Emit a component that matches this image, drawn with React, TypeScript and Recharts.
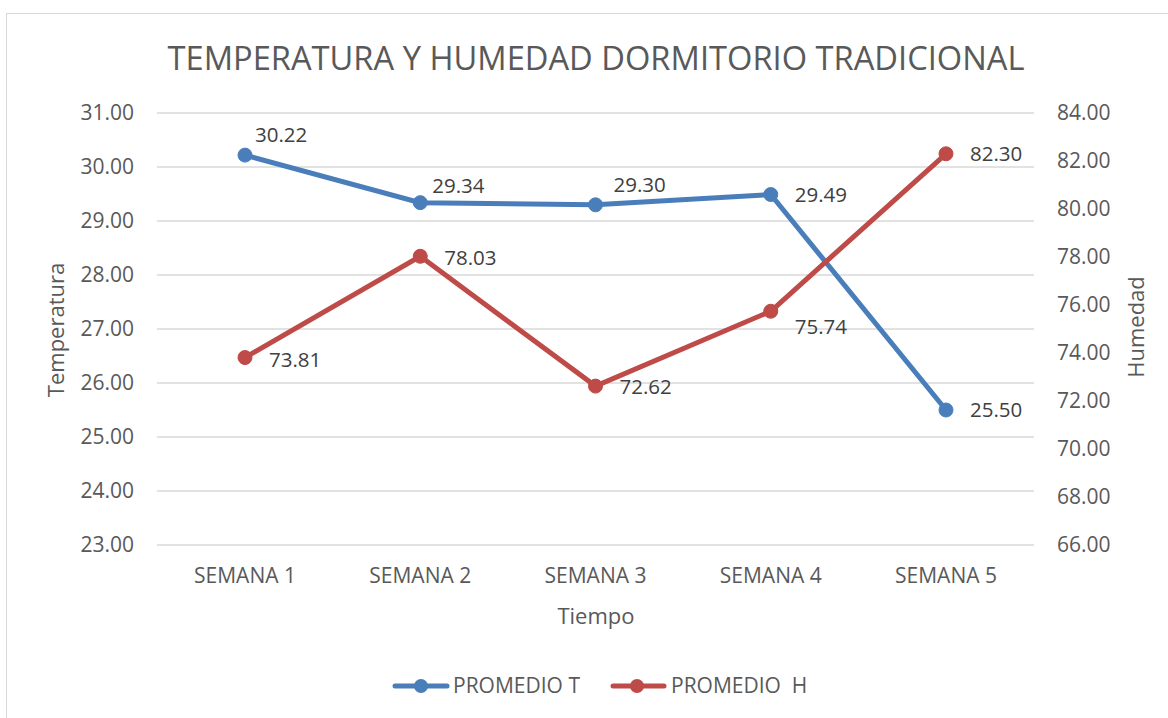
import React from "react"
import { CartesianGrid, LabelList, Line, LineChart, XAxis, YAxis } from "recharts"

const weeks = ["SEMANA 1", "SEMANA 2", "SEMANA 3", "SEMANA 4", "SEMANA 5"]
const promedioT = [30.22, 29.34, 29.3, 29.49, 25.5]
const promedioH = [73.81, 78.03, 72.62, 75.74, 82.3]
const tempTicks = [23, 24, 25, 26, 27, 28, 29, 30, 31]
const humTicks = [66, 68, 70, 72, 74, 76, 78, 80, 82, 84]

const data = weeks.map((name, i) => ({ name, t: promedioT[i], h: promedioH[i] }))

const BLUE = "#4A7EBB"
const RED = "#BE4B48"
const TEXT = "#595959"
const FONT = "'Open Sans', sans-serif"

// label nudges so the labels sit where the original had them
const nudgeT = [[10, -20], [12, -17], [18, -20], [24, 0], [24, 0]]
const nudgeH = [[24, 2], [24, 1], [24, 1], [24, 15], [24, 0]]

const makeLabel = (nudge: number[][]) => (props: any) => {
    const { x, y, value, index } = props
    const [dx, dy] = nudge[index] || [24, 0]
    return (
        <text x={x + dx} y={y + dy} dy="0.355em" fontSize={20.5} fill="#404040" fontFamily={FONT}>
            {Number(value).toFixed(2)}
        </text>
    )
}

export default function App() {
    const tick = { fontSize: 21, fill: TEXT, fontFamily: FONT }
    return (
        <div style={{ position: "absolute", left: 0, top: 0, width: 1168, height: 718, background: "#fff" }}>
            <div style={{ position: "absolute", left: 6, top: 13, width: 1170, height: 720, border: "1px solid #d9d9d9" }} />
            <div style={{ position: "absolute", left: 0, top: 0 }}>
                <LineChart width={1168} height={718} data={data} margin={{ top: 113, right: 0, bottom: 113, left: 0 }}>
                    <CartesianGrid vertical={false} stroke="#d9d9d9" strokeWidth={1.3} yAxisId="left" />
                    <XAxis
                        dataKey="name"
                        axisLine={false}
                        tickLine={false}
                        tickSize={0}
                        tickMargin={23}
                        height={60}
                        padding={{ left: 88, right: 88 }}
                        tick={tick}
                    />
                    <YAxis
                        yAxisId="left"
                        domain={[23, 31]}
                        ticks={tempTicks}
                        interval={0}
                        width={157}
                        axisLine={false}
                        tickLine={false}
                        tickSize={0}
                        tickMargin={23}
                        tick={tick}
                        tickFormatter={(v) => Number(v).toFixed(2)}
                    />
                    <YAxis
                        yAxisId="right"
                        orientation="right"
                        domain={[66, 84]}
                        ticks={humTicks}
                        interval={0}
                        width={134}
                        axisLine={false}
                        tickLine={false}
                        tickSize={0}
                        tickMargin={23}
                        tick={{ ...tick, textAnchor: "start" }}
                        tickFormatter={(v) => Number(v).toFixed(2)}
                    />
                    <Line
                        yAxisId="left"
                        dataKey="t"
                        stroke={BLUE}
                        strokeWidth={5}
                        dot={{ r: 7, fill: BLUE, stroke: BLUE, strokeWidth: 1 }}
                        isAnimationActive={false}
                    >
                        <LabelList dataKey="t" content={makeLabel(nudgeT)} />
                    </Line>
                    <Line
                        yAxisId="right"
                        dataKey="h"
                        stroke={RED}
                        strokeWidth={5}
                        dot={{ r: 7, fill: RED, stroke: RED, strokeWidth: 1 }}
                        isAnimationActive={false}
                    >
                        <LabelList dataKey="h" content={makeLabel(nudgeH)} />
                    </Line>
                </LineChart>
            </div>
            <svg width={1168} height={718} style={{ position: "absolute", left: 0, top: 0, pointerEvents: "none" }}>
                <text x={596} y={70} textAnchor="middle" fontSize={33} fill={TEXT} fontFamily={FONT} textLength={857} lengthAdjust="spacingAndGlyphs">
                    TEMPERATURA Y HUMEDAD DORMITORIO TRADICIONAL
                </text>
                <text x={596} y={624} textAnchor="middle" fontSize={22} fill={TEXT} fontFamily={FONT}>
                    Tiempo
                </text>
                <text transform="translate(64 330) rotate(-90)" textAnchor="middle" fontSize={22} fill={TEXT} fontFamily={FONT}>
                    Temperatura
                </text>
                <text transform="translate(1144 327) rotate(-90)" textAnchor="middle" fontSize={22} fill={TEXT} fontFamily={FONT}>
                    Humedad
                </text>
                <line x1={395} x2={447} y1={686} y2={686} stroke={BLUE} strokeWidth={5} strokeLinecap="round" />
                <circle cx={421} cy={686} r={7} fill={BLUE} />
                <text x={453} y={686} dy="0.355em" fontSize={21} fill={TEXT} fontFamily={FONT}>
                    PROMEDIO T
                </text>
                <line x1={613} x2={664} y1={686} y2={686} stroke={RED} strokeWidth={5} strokeLinecap="round" />
                <circle cx={637} cy={686} r={7} fill={RED} />
                <text x={671} y={686} dy="0.355em" fontSize={21} fill={TEXT} fontFamily={FONT} style={{ whiteSpace: "pre" }}>
                    {"PROMEDIO  H"}
                </text>
            </svg>
        </div>
    )
}
